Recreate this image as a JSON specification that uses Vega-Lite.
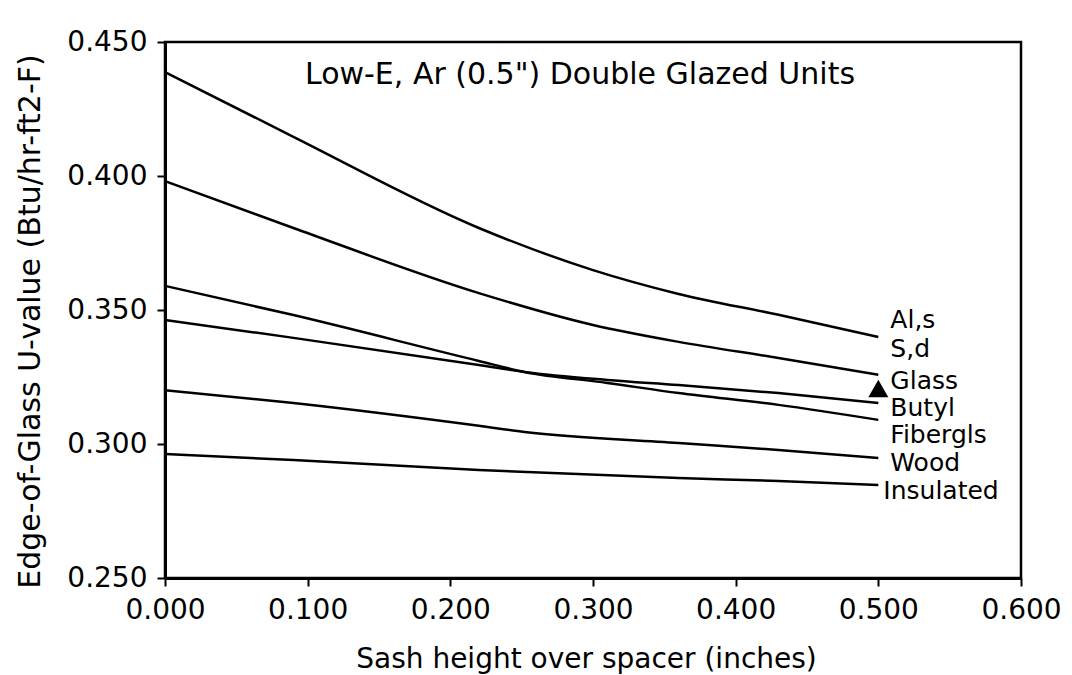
{
  "$schema": "https://vega.github.io/schema/vega-lite/v6.json",
  "width": 856,
  "height": 536,
  "autosize": {"type": "none"},
  "padding": {"left": 165, "top": 42, "right": 51, "bottom": 97},
  "background": "white",
  "config": {
    "font": "DejaVu Sans",
    "view": {"stroke": "black", "strokeWidth": 2.5},
    "axis": {
      "grid": false,
      "domainColor": "black",
      "domainWidth": 3,
      "tickColor": "black",
      "tickWidth": 2,
      "tickSize": 8,
      "labelColor": "black",
      "labelFontSize": 28,
      "labelPadding": 10,
      "labelFlush": false,
      "labelOverlap": false,
      "labelBound": false,
      "titleColor": "black",
      "titleFontWeight": "normal"
    }
  },
  "title": {
    "text": "Low-E, Ar (0.5\") Double Glazed Units",
    "fontSize": 30,
    "fontWeight": "normal",
    "color": "black",
    "font": "DejaVu Sans",
    "anchor": "middle",
    "frame": "group",
    "offset": -62,
    "dx": -13
  },
  "datasets": {
    "lines": [
      {"series": "Al,s", "x": 0, "u": 0.4388},
      {"series": "Al,s", "x": 0.09, "u": 0.4146},
      {"series": "Al,s", "x": 0.22, "u": 0.3806},
      {"series": "Al,s", "x": 0.30, "u": 0.3649},
      {"series": "Al,s", "x": 0.36, "u": 0.3560},
      {"series": "Al,s", "x": 0.43, "u": 0.3482},
      {"series": "Al,s", "x": 0.50, "u": 0.3399},
      {"series": "S,d", "x": 0, "u": 0.3981},
      {"series": "S,d", "x": 0.09, "u": 0.3806},
      {"series": "S,d", "x": 0.22, "u": 0.3563},
      {"series": "S,d", "x": 0.30, "u": 0.3444},
      {"series": "S,d", "x": 0.36, "u": 0.3381},
      {"series": "S,d", "x": 0.43, "u": 0.3321},
      {"series": "S,d", "x": 0.50, "u": 0.3258},
      {"series": "Fibergls", "x": 0, "u": 0.3590},
      {"series": "Fibergls", "x": 0.09, "u": 0.3481},
      {"series": "Fibergls", "x": 0.22, "u": 0.3310},
      {"series": "Fibergls", "x": 0.252, "u": 0.3269},
      {"series": "Fibergls", "x": 0.31, "u": 0.3228},
      {"series": "Fibergls", "x": 0.36, "u": 0.3190},
      {"series": "Fibergls", "x": 0.43, "u": 0.3146},
      {"series": "Fibergls", "x": 0.50, "u": 0.3090},
      {"series": "Butyl", "x": 0, "u": 0.3463},
      {"series": "Butyl", "x": 0.09, "u": 0.3396},
      {"series": "Butyl", "x": 0.22, "u": 0.3295},
      {"series": "Butyl", "x": 0.252, "u": 0.3269},
      {"series": "Butyl", "x": 0.31, "u": 0.3239},
      {"series": "Butyl", "x": 0.36, "u": 0.3220},
      {"series": "Butyl", "x": 0.43, "u": 0.3190},
      {"series": "Butyl", "x": 0.50, "u": 0.3153},
      {"series": "Wood", "x": 0, "u": 0.3201},
      {"series": "Wood", "x": 0.09, "u": 0.3153},
      {"series": "Wood", "x": 0.22, "u": 0.3068},
      {"series": "Wood", "x": 0.252, "u": 0.3045},
      {"series": "Wood", "x": 0.36, "u": 0.3004},
      {"series": "Wood", "x": 0.43, "u": 0.2978},
      {"series": "Wood", "x": 0.50, "u": 0.2948},
      {"series": "Insulated", "x": 0, "u": 0.2963},
      {"series": "Insulated", "x": 0.09, "u": 0.2940},
      {"series": "Insulated", "x": 0.22, "u": 0.2903},
      {"series": "Insulated", "x": 0.36, "u": 0.2873},
      {"series": "Insulated", "x": 0.43, "u": 0.2862},
      {"series": "Insulated", "x": 0.50, "u": 0.2847}
    ],
    "marker": [
      {"series": "Glass", "x": 0.5, "u": 0.3207}
    ],
    "labels": [
      {"label": "Al,s", "x": 0.5, "u": 0.3463},
      {"label": "S,d", "x": 0.5, "u": 0.3354},
      {"label": "Glass", "x": 0.5, "u": 0.3235},
      {"label": "Butyl", "x": 0.5, "u": 0.3134},
      {"label": "Fibergls", "x": 0.5, "u": 0.3032},
      {"label": "Wood", "x": 0.5, "u": 0.2930},
      {"label": "Insulated", "x": 0.5, "u": 0.2826}
    ]
  },
  "encoding": {
    "x": {
      "field": "x",
      "type": "quantitative",
      "scale": {"domain": [0, 0.6], "nice": false, "zero": false},
      "axis": {
        "values": [0, 0.1, 0.2, 0.3, 0.4, 0.5, 0.6],
        "format": ".3f",
        "title": "Sash height over spacer (inches)",
        "titleFontSize": 28,
        "titleBaseline": "alphabetic",
        "titleX": 421,
        "titleY": 89
      }
    },
    "y": {
      "field": "u",
      "type": "quantitative",
      "scale": {"domain": [0.25, 0.45], "nice": false, "zero": false},
      "axis": {
        "values": [0.25, 0.3, 0.35, 0.4, 0.45],
        "format": ".3f",
        "title": "Edge-of-Glass U-value  (Btu/hr-ft2-F)",
        "titleFontSize": 30,
        "titleBaseline": "alphabetic",
        "titleAngle": 270,
        "titleX": -126,
        "titleY": 279
      }
    }
  },
  "layer": [
    {
      "data": {"name": "lines"},
      "mark": {"type": "line", "color": "black", "strokeWidth": 2.5, "interpolate": "monotone"},
      "encoding": {"detail": {"field": "series"}}
    },
    {
      "data": {"name": "marker"},
      "mark": {"type": "point", "shape": "triangle-up", "filled": true, "color": "black", "size": 400, "opacity": 1}
    },
    {
      "data": {"name": "labels"},
      "transform": [{"filter": "datum.label !== 'Insulated'"}],
      "mark": {"type": "text", "align": "left", "baseline": "middle", "dx": 12, "fontSize": 25, "color": "black"},
      "encoding": {"text": {"field": "label"}}
    },
    {
      "data": {"name": "labels"},
      "transform": [{"filter": "datum.label === 'Insulated'"}],
      "mark": {"type": "text", "align": "left", "baseline": "middle", "dx": 5, "fontSize": 25, "color": "black"},
      "encoding": {"text": {"field": "label"}}
    }
  ]
}
